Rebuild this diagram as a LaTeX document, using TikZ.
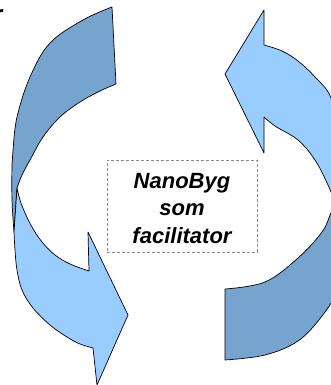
\documentclass[tikz,border=0pt]{standalone}
\usepackage{fontspec}
\setmainfont{Liberation Sans}
\definecolor{darkband}{RGB}{118,164,206}
\definecolor{lightband}{RGB}{153,204,255}
\definecolor{boxgray}{RGB}{140,140,140}
\begin{document}
\begin{tikzpicture}[x=1pt,y=-1pt,
  bandshape/.style={draw=black,line width=0.7pt,line join=round},
  lbl/.style={anchor=base,inner sep=0pt,font=\fontsize{22}{27.5}\selectfont\bfseries\itshape}]
\useasboundingbox (0,0) rectangle (331,385);
\clip (0,0) rectangle (331,385);
\fill[white] (0,0) rectangle (331,385);
% left arrow: dark back band
\filldraw[bandshape,fill=darkband] (112,7) -- plot[smooth,tension=0.6] coordinates {(116,84) (100,91) (80,102) (60,117) (43,137) (30,160) (22,175) (17,188)}
  -- plot[smooth,tension=0.6] coordinates {(14,232) (12,200) (12,165) (13,150) (17,117) (30,77) (50,43) (83,20) (112,7)} -- cycle;
% left arrow: light front band with head
\filldraw[bandshape,fill=lightband] plot[smooth,tension=0.6] coordinates {(17,188) (20,200) (25,213) (32,227) (42,242) (55,255) (70,264) (89,271)}
  -- (88,232) -- (128,315) -- (97,385) -- (93,348)
  -- plot[smooth,tension=0.6] coordinates {(93,348) (80,344) (67,337) (50,325) (33,308) (22,290) (17,270) (15,250) (14,232)} -- cycle;
% right arrow: dark back band
\filldraw[bandshape,fill=darkband] (225,289) -- plot[smooth,tension=0.6] coordinates {(225,360) (265,355) (298,341) (322,316) (338,290) (348,260)}
  -- plot[smooth,tension=0.6] coordinates {(340,195) (331,213) (322,232) (298,258) (265,282) (225,289)} -- cycle;
% right arrow: light front band with head
\filldraw[bandshape,fill=lightband] (264,45) -- (264,10) -- (225,74) -- (264,153) -- (264,117)
  -- plot[smooth,tension=0.6] coordinates {(264,117) (275,126) (298,140) (315,160) (328,185) (338,210)}
  -- plot[smooth,tension=0.6] coordinates {(345,215) (341,190) (340,160) (338,138) (331,98) (315,77) (298,61) (282,51) (264,45)} -- cycle;
% text box
\node[draw=boxgray,line width=0.6pt,dash pattern=on 3pt off 2pt,minimum width=150pt,minimum height=92pt,inner sep=0pt] (box) at (182,206) {};
\node[lbl] (t1) at (182,188) {NanoByg};
\node[lbl] (t2) at (182,215) {som};
\node[lbl] (t3) at (182,243) {facilitator};
% clipped fragment at top left
\node[anchor=base west,inner sep=0pt,font=\fontsize{26}{30}\selectfont\bfseries] (frag) at (-6.5,24) {r};
\end{tikzpicture}
\end{document}
